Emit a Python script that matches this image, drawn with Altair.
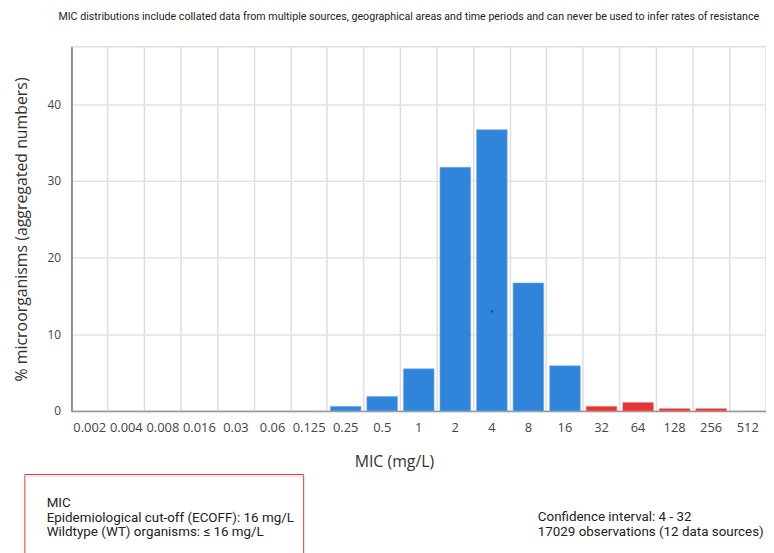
import altair as alt
import pandas as pd

# ---- data ----
mic_labels = ["0.002", "0.004", "0.008", "0.016", "0.03", "0.06", "0.125", "0.25", "0.5",
              "1", "2", "4", "8", "16", "32", "64", "128", "256", "512"]
pct_values = [0, 0, 0, 0, 0, 0, 0, 0.6, 1.9, 5.5, 31.8, 36.7, 16.7, 5.9, 0.6, 1.1, 0.3, 0.3, 0]
ecoff_index = 13  # "16"
group = ["WT" if i <= ecoff_index else "NWT" for i in range(len(mic_labels))]
marker_mic = ["4"]
marker_val = [13.0]

title_text = ("MIC distributions include collated data from multiple sources, geographical areas "
              "and time periods and can never be used to infer rates of resistance")
box_lines = ["MIC", "Epidemiological cut-off (ECOFF): 16 mg/L", "Wildtype (WT) organisms: \u2264 16 mg/L"]
info_lines = ["Confidence interval: 4 - 32", "17029 observations (12 data sources)"]

df = pd.DataFrame({"mic": mic_labels, "pct": pct_values, "group": group})
df_bars = df[df["pct"] > 0]
df_marker = pd.DataFrame({"mic": marker_mic, "val": marker_val})

W, H = 700, 367
FONT = "Open Sans"
NARROW = "Roboto"

x_scale = alt.Scale(domain=mic_labels, paddingInner=0, paddingOuter=0)
y_scale = alt.Scale(domain=[0, 47.5], nice=False)

x_enc = alt.X("mic:N", sort=mic_labels, scale=x_scale,
              axis=alt.Axis(title="MIC (mg/L)", labelAngle=0, ticks=False, labelPadding=11,
                            labelFontSize=13, labelFont=FONT, labelColor="#444",
                            titleFont=FONT, titleFontSize=16, titleFontWeight="normal",
                            titleColor="#333", titleX=325, titleY=56, titleAnchor="middle",
                            titleBaseline="alphabetic",
                            grid=True, gridColor="#dedede", gridWidth=1.5, bandPosition=0,
                            domainColor="#999", domainWidth=1.5))

bars = alt.Chart(df_bars).mark_bar(width=alt.RelativeBandSize(0.84)).encode(
    x=x_enc,
    y=alt.Y("pct:Q", scale=y_scale,
            axis=alt.Axis(title="% microorganisms (aggregated numbers)", values=[0, 10, 20, 30, 40],
                          ticks=False, labelPadding=11, labelFontSize=12, labelFont=FONT,
                          labelColor="#444", titleFont=FONT, titleFontSize=16,
                          titleFontWeight="normal", titleColor="#333",
                          titleX=-50, titleY=H / 2, titleAngle=-90, titleAlign="center",
                          titleBaseline="middle",
                          grid=True, gridColor="#e3e3e3", gridWidth=1.5,
                          domainColor="#777", domainWidth=1.5)),
    color=alt.Color("group:N", scale=alt.Scale(domain=["WT", "NWT"], range=["#3085da", "#e53535"]),
                    legend=None),
)

bar_edges = alt.Chart(df_bars).mark_bar(width=alt.RelativeBandSize(0.84), fillOpacity=0,
                                        strokeWidth=1, strokeOpacity=0.6).encode(
    x=alt.X("mic:N", sort=mic_labels, scale=x_scale),
    y=alt.Y("pct:Q", scale=y_scale),
    stroke=alt.Stroke("group:N", scale=alt.Scale(domain=["WT", "NWT"], range=["#7db3ec", "#f08080"]),
                      legend=None),
)

marker = alt.Chart(df_marker).mark_point(filled=True, size=8, color="#1d4f86", opacity=0.9).encode(
    x=alt.X("mic:N", sort=mic_labels, scale=x_scale),
    y=alt.Y("val:Q", scale=y_scale),
)

df_one = pd.DataFrame({"k": [0]})


def text_layer(txt, x, y, font, size, align="left", baseline="middle"):
    return alt.Chart(df_one).mark_text(font=font, fontSize=size, color="#222", align=align,
                                       baseline=baseline, text=txt).encode(
        x=alt.value(x), y=alt.value(y))


title_layer = text_layer(title_text, 340, -27, NARROW, 10.75, align="center", baseline="alphabetic")

# legend box
box = alt.Chart(df_one).mark_rect(fill="white", stroke="#e53535", strokeWidth=1).encode(
    x=alt.value(-47), x2=alt.value(234), y=alt.value(431), y2=alt.value(540))
box_shadow = alt.Chart(df_one).mark_rect(fill="#eeeeee", strokeWidth=0).encode(
    x=alt.value(-46.5), x2=alt.value(233.5), y=alt.value(431.5), y2=alt.value(434))

box_layers = [text_layer(t, -25, 460 + 14.5 * i, NARROW, 13.5) for i, t in enumerate(box_lines)]
info_layers = [text_layer(t, 470, 474 + 15 * i, NARROW, 13.5) for i, t in enumerate(info_lines)]

chart = alt.layer(bars, bar_edges, marker, title_layer, box, box_shadow, *box_layers, *info_layers).properties(
    width=W, height=H,
    autosize=alt.AutoSizeParams(type="none"),
    padding={"left": 64, "top": 37, "right": 0, "bottom": 141},
    background="white",
).configure_view(stroke="#dedede", strokeWidth=1.5)

chart.save("out.html", embed_options={"renderer": "svg", "actions": False})
